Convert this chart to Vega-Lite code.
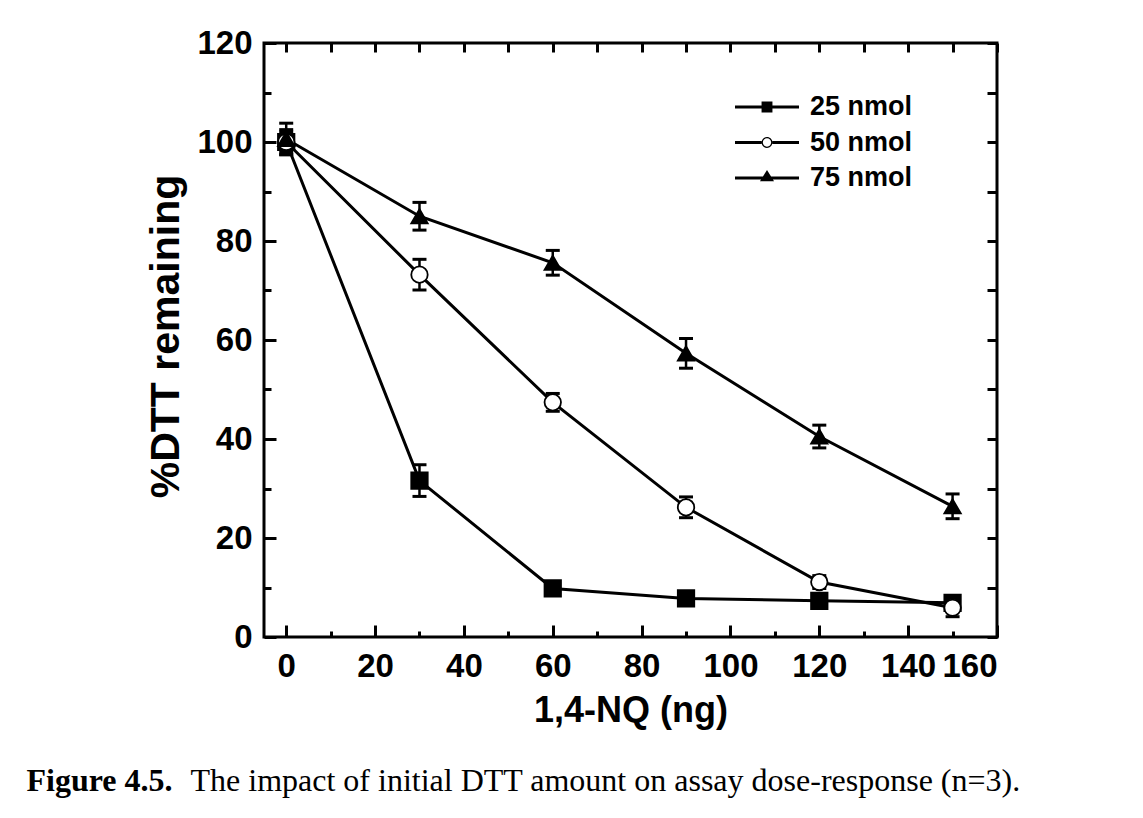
{
  "$schema": "https://vega.github.io/schema/vega-lite/v6.json",
  "width": 733,
  "height": 594,
  "autosize": {"type": "none"},
  "padding": {"left": 264, "top": 43, "right": 146, "bottom": 181},
  "background": "white",
  "config": {
    "view": {"stroke": "black", "strokeWidth": 3},
    "axis": {
      "grid": false,
      "domain": false,
      "tickColor": "black",
      "tickWidth": 3,
      "labelFont": "Liberation Sans",
      "labelFontWeight": "bold",
      "labelFontSize": 33,
      "labelColor": "black",
      "titleFont": "Liberation Sans",
      "titleFontWeight": "bold",
      "titleColor": "black"
    }
  },
  "data": {
    "values": [
      {"x": 0, "y": 100, "err": 2.5, "s": "25 nmol"},
      {"x": 30, "y": 31.6, "err": 3.2, "s": "25 nmol"},
      {"x": 60, "y": 9.8, "err": 1.2, "s": "25 nmol"},
      {"x": 90, "y": 7.8, "err": 1.2, "s": "25 nmol"},
      {"x": 120, "y": 7.3, "err": 1.3, "s": "25 nmol"},
      {"x": 150, "y": 6.9, "err": 1.3, "s": "25 nmol"},
      {"x": 0, "y": 100, "err": 2, "s": "50 nmol"},
      {"x": 30, "y": 73.2, "err": 3.1, "s": "50 nmol"},
      {"x": 60, "y": 47.4, "err": 1.8, "s": "50 nmol"},
      {"x": 90, "y": 26.2, "err": 2.1, "s": "50 nmol"},
      {"x": 120, "y": 11.1, "err": 1.3, "s": "50 nmol"},
      {"x": 150, "y": 5.9, "err": 1.8, "s": "50 nmol"},
      {"x": 0, "y": 100.6, "err": 3.2, "s": "75 nmol"},
      {"x": 30, "y": 85, "err": 2.8, "s": "75 nmol"},
      {"x": 60, "y": 75.6, "err": 2.5, "s": "75 nmol"},
      {"x": 90, "y": 57.3, "err": 3, "s": "75 nmol"},
      {"x": 120, "y": 40.5, "err": 2.3, "s": "75 nmol"},
      {"x": 150, "y": 26.4, "err": 2.5, "s": "75 nmol"}
    ]
  },
  "resolve": {"axis": {"x": "independent", "y": "independent"}, "scale": {"shape": "independent"}},
  "layer": [
    {
      "mark": {"type": "line", "color": "black", "strokeWidth": 3},
      "encoding": {
        "x": {
          "field": "x", "type": "quantitative",
          "scale": {"domain": [-5, 160], "nice": false, "zero": false},
          "axis": {
            "orient": "bottom",
            "values": [0, 20, 40, 60, 80, 100, 120, 140, 160],
            "tickSize": -12,
            "labelPadding": 25,
            "title": "1,4-NQ (ng)",
            "titleFontSize": 36,
            "titlePadding": 10
          }
        },
        "y": {
          "field": "y", "type": "quantitative",
          "scale": {"domain": [0, 120], "nice": false},
          "axis": {
            "orient": "left",
            "values": [0, 20, 40, 60, 80, 100, 120],
            "tickSize": -12,
            "labelPadding": 24,
            "title": "%DTT remaining",
            "titleFontSize": 41,
            "titleBaseline": "alphabetic",
            "titleX": -86,
            "titleY": 293
          }
        },
        "detail": {"field": "s"}
      }
    },
    {
      "mark": {"type": "errorbar", "color": "black", "opacity": 1, "thickness": 2.5, "ticks": {"size": 14, "thickness": 3, "color": "black", "opacity": 1}, "rule": {"color": "black", "opacity": 1}},
      "encoding": {
        "x": {
          "field": "x", "type": "quantitative",
          "axis": {
            "orient": "bottom",
            "values": [10, 30, 50, 70, 90, 110, 130, 150],
            "tickSize": -6,
            "labels": false,
            "title": "The impact of initial DTT amount on assay dose-response (n=3).",
            "titleFont": "Liberation Serif",
            "titleFontWeight": "normal",
            "titleFontSize": 32,
            "titleAlign": "left",
            "titleBaseline": "alphabetic",
            "titleAnchor": "start",
            "titleX": -74,
            "titleY": 153
          }
        },
        "y": {
          "field": "y", "type": "quantitative",
          "axis": {
            "orient": "left",
            "values": [10, 30, 50, 70, 90, 110],
            "tickSize": -7,
            "labels": false,
            "title": null
          }
        },
        "yError": {"field": "err"}
      }
    },
    {
      "mark": {"type": "point", "filled": true, "stroke": "black", "strokeWidth": 1.8, "opacity": 1, "size": 270},
      "encoding": {
        "x": {
          "field": "x", "type": "quantitative",
          "axis": {
            "orient": "top",
            "values": [0, 10, 20, 30, 40, 50, 60, 70, 80, 90, 100, 110, 120, 130, 140, 150, 160],
            "tickSize": -9,
            "labels": false,
            "title": "Figure 4.5.",
            "titleFont": "Liberation Serif",
            "titleFontWeight": "bold",
            "titleFontSize": 32,
            "titleAlign": "left",
            "titleBaseline": "alphabetic",
            "titleAngle": 0,
            "titleX": -238,
            "titleY": 747
          }
        },
        "y": {
          "field": "y", "type": "quantitative",
          "axis": {
            "orient": "right",
            "values": [0, 10, 20, 30, 40, 50, 60, 70, 80, 90, 100, 110, 120],
            "tickSize": -10,
            "labels": false,
            "title": null
          }
        },
        "shape": {
          "field": "s", "type": "nominal",
          "scale": {"domain": ["25 nmol", "50 nmol", "75 nmol"], "range": ["square", "circle", "triangle-up"]},
          "legend": null
        },
        "fill": {
          "condition": {"test": "datum.s === '50 nmol'", "value": "white"},
          "value": "black"
        }
      }
    },
    {
      "transform": [{"filter": "datum.x < -100"}],
      "mark": {"type": "point", "filled": true, "color": "black", "strokeWidth": 0, "opacity": 1},
      "encoding": {
        "x": {"field": "x", "type": "quantitative", "axis": null},
        "y": {"field": "y", "type": "quantitative", "axis": null},
        "shape": {
          "field": "s", "type": "nominal",
          "scale": {
            "domain": ["25 nmol", "50 nmol", "75 nmol"],
            "range": [
              "M-1.6,-0.08H1.6V0.08H-1.6Z M-0.272,-0.272H0.272V0.272H-0.272Z",
              "M-1.6,-0.08H-0.272V0.08H-1.6Z M0.272,-0.08H1.6V0.08H0.272Z M0.272,0A0.272,0.272 0 1,1 -0.272,0A0.272,0.272 0 1,1 0.272,0Z M0.208,0A0.208,0.208 0 1,0 -0.208,0A0.208,0.208 0 1,0 0.208,0Z",
              "M-1.6,-0.08H1.6V0.08H-1.6Z M0,-0.4L0.352,0.16H-0.352Z"
            ]
          },
          "legend": {
            "orient": "none",
            "legendX": 483,
            "legendY": 44,
            "title": null,
            "labelFont": "Liberation Sans",
            "labelFontWeight": "bold",
            "labelFontSize": 27,
            "labelColor": "black",
            "labelOffset": 23,
            "symbolSize": 1600,
            "symbolFillColor": "black",
            "symbolStrokeColor": "black",
            "symbolStrokeWidth": 0,
            "symbolOpacity": 1,
            "rowPadding": 2.5
          }
        }
      }
    }
  ]
}
